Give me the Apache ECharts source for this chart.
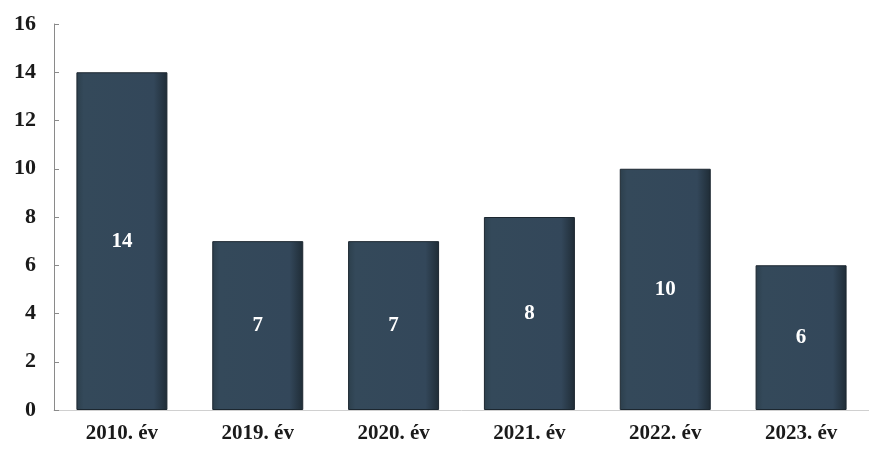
<!DOCTYPE html>
<html><head><meta charset="utf-8">
<script src="https://cdn.jsdelivr.net/npm/echarts@6/dist/echarts.min.js"></script>
<style>html,body{margin:0;padding:0;background:#fff}#c{width:869px;height:454px}</style>
</head><body><div id="c"></div>
<script>
const categories = ['2010. év','2019. év','2020. év','2021. év','2022. év','2023. év'];
const values = [14, 7, 7, 8, 10, 6];
const yTicks = {min: 0, max: 16, interval: 2};

const chart = echarts.init(document.getElementById('c'), null, {renderer: 'canvas'});
const serif = '"Liberation Serif", "DejaVu Serif", serif';
chart.setOption({
  animation: false,
  backgroundColor: '#fff',
  grid: {left: 54, right: 0, top: 24, bottom: 44},
  xAxis: {
    type: 'category', data: categories,
    axisLine: {show: true, lineStyle: {color: '#d0d0d0', width: 1}},
    axisTick: {show: false},
    axisLabel: {color: '#1a1a1a', fontFamily: serif, fontWeight: 'bold', fontSize: 21, margin: 13}
  },
  yAxis: {
    type: 'value', min: yTicks.min, max: yTicks.max, interval: yTicks.interval,
    axisLine: {show: true, lineStyle: {color: '#8a8a8a', width: 1}},
    axisTick: {show: true, inside: true, length: 5, lineStyle: {color: '#8a8a8a'}},
    splitLine: {show: false},
    axisLabel: {color: '#1a1a1a', fontFamily: serif, fontWeight: 'bold', fontSize: 22, margin: 18}
  },
  series: [{
    type: 'bar', data: values, barWidth: 91,
    itemStyle: {
      color: {type: 'linear', x: 0, y: 0, x2: 1, y2: 0, colorStops: [
        {offset: 0, color: '#2c3f4c'}, {offset: 0.08, color: '#34495a'},
        {offset: 0.85, color: '#33475a'}, {offset: 1, color: '#1f2c36'}]},
      borderColor: '#1c2730', borderWidth: 1
    },
    label: {show: true, position: 'inside', color: '#ffffff', fontFamily: serif, fontWeight: 'bold', fontSize: 21}
  }]
});
</script></body></html>
